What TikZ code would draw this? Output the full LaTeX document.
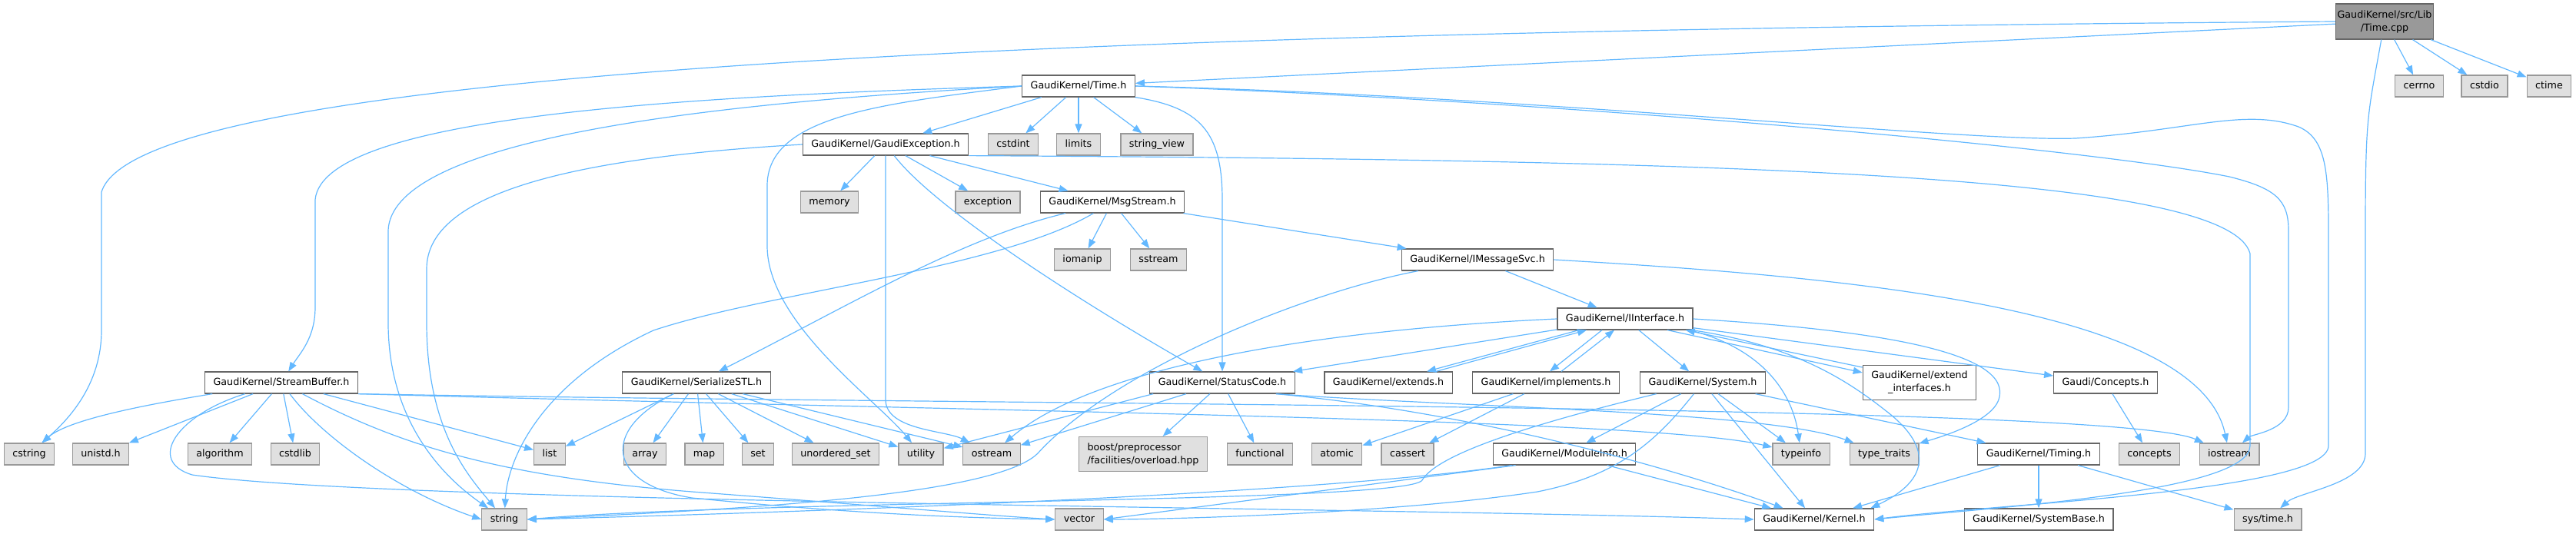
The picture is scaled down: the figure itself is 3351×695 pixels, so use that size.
\documentclass[tikz,border=0pt]{standalone}
\usepackage{fontspec}
\setmainfont{DejaVu Sans}
\usetikzlibrary{arrows.meta}
\definecolor{depblue}{HTML}{63B8FF}
\definecolor{hdrline}{HTML}{666666}
\definecolor{sysline}{HTML}{999999}
\definecolor{sysfill}{HTML}{E0E0E0}
\definecolor{rootfill}{HTML}{999999}

\begin{document}
\begin{tikzpicture}[x=1pt,y=-1pt,font=\fontsize{12.7}{17}\selectfont,
    box/.style={draw=hdrline,fill=white,line width=1.2pt,inner xsep=11pt,inner ysep=0pt,minimum height=28pt},
    hdr/.style={box,text height=9.5pt,text depth=2.6pt},
    sys/.style={hdr,draw=sysline,fill=sysfill},
    dep/.style={draw=depblue,line width=1.2pt,-{Triangle[length=12pt,width=9pt]}}]
  \useasboundingbox (0,0) rectangle (3351,695);

  % top rows
  \node[box,fill=rootfill,inner xsep=2pt,minimum height=46pt,align=center] (tcpp) at (3102,28) {GaudiKernel/src/Lib\\/Time.cpp};
  \node[hdr] (timeh) at (1403,112) {GaudiKernel/Time.h};
  \node[sys] (cerrno) at (3147,112) {cerrno};
  \node[sys] (cstdio) at (3232,112) {cstdio};
  \node[sys] (ctime) at (3316,112) {ctime};
  \node[hdr] (gexc) at (1152,188) {GaudiKernel/GaudiException.h};
  \node[sys] (cstdint) at (1318,188) {cstdint};
  \node[sys] (limits) at (1403,188) {limits};
  \node[sys] (strview) at (1505,188) {string\_view};
  \node[sys] (memory) at (1079,263) {memory};
  \node[sys] (exception) at (1285,263) {exception};
  \node[hdr] (msgstream) at (1447,263) {GaudiKernel/MsgStream.h};
  \node[sys] (iomanip) at (1408,338) {iomanip};
  \node[sys] (sstream) at (1507,338) {sstream};
  \node[hdr] (imsgsvc) at (1922,338) {GaudiKernel/IMessageSvc.h};
  \node[hdr] (iinterface) at (2114,415) {GaudiKernel/IInterface.h};

  % middle row
  \node[hdr] (streambuf) at (366,498) {GaudiKernel/StreamBuffer.h};
  \node[hdr] (serialize) at (906,498) {GaudiKernel/SerializeSTL.h};
  \node[hdr] (statuscode) at (1590,498) {GaudiKernel/StatusCode.h};
  \node[hdr] (extends) at (1806,498) {GaudiKernel/extends.h};
  \node[hdr] (implements) at (2011,498) {GaudiKernel/implements.h};
  \node[hdr] (system) at (2215,498) {GaudiKernel/System.h};
  \node[box,minimum height=45pt,align=center] (extendif) at (2497,498) {GaudiKernel/extend\\\_interfaces.h};
  \node[hdr] (conceptsh) at (2739,498) {Gaudi/Concepts.h};

  % lower rows
  \node[sys] (cstring) at (38,591) {cstring};
  \node[sys] (unistd) at (131,591) {unistd.h};
  \node[sys] (algorithm) at (286,591) {algorithm};
  \node[sys] (cstdlib) at (384,591) {cstdlib};
  \node[sys] (list) at (715,591) {list};
  \node[sys] (array) at (839,591) {array};
  \node[sys] (map) at (916,591) {map};
  \node[sys] (set) at (986,591) {set};
  \node[sys] (unordset) at (1087,591) {unordered\_set};
  \node[sys] (utility) at (1198,591) {utility};
  \node[sys] (ostream) at (1290,591) {ostream};
  \node[box,draw=sysline,fill=sysfill,minimum height=45pt,align=left] (boost) at (1487,591) {boost/preprocessor\\/facilities/overload.hpp};
  \node[sys] (functional) at (1639,591) {functional};
  \node[sys] (atomic) at (1739,591) {atomic};
  \node[sys] (cassert) at (1831,591) {cassert};
  \node[hdr] (moduleinfo) at (2035,591) {GaudiKernel/ModuleInfo.h};
  \node[sys] (typeinfo) at (2343,591) {typeinfo};
  \node[sys] (typetraits) at (2451,591) {type\_traits};
  \node[hdr] (timing) at (2652,591) {GaudiKernel/Timing.h};
  \node[sys] (concepts) at (2796,591) {concepts};
  \node[sys] (iostream) at (2900,591) {iostream};
  \node[sys] (string) at (656,676) {string};
  \node[sys] (vector) at (1404,676) {vector};
  \node[hdr] (kernel) at (2360,676) {GaudiKernel/Kernel.h};
  \node[hdr] (systembase) at (2652,676) {GaudiKernel/SystemBase.h};
  \node[sys] (systime) at (2950,676) {sys/time.h};

  % Time.cpp
  \draw[dep] (tcpp) -- (timeh);
  \foreach \t in {cerrno,cstdio,ctime} \draw[dep] (tcpp) -- (\t);
  \draw[dep] (tcpp.west) .. controls (1400,40) and (180,90) .. (132,250) -- (132,430) .. controls (132,500) and (90,545) .. (cstring);
  \draw[dep] (tcpp) .. controls (3080,150) and (3077,150) .. (3077,300) -- (3077,590) .. controls (3077,630) and (2990,640) .. (systime);

  % Time.h
  \foreach \t in {cstdint,limits,strview,gexc} \draw[dep] (timeh) -- (\t);
  \draw[dep] (timeh.west) .. controls (900,125) and (420,150) .. (410,260) -- (410,400) .. controls (410,440) and (390,460) .. (streambuf);
  \draw[dep] (timeh.west) .. controls (1000,130) and (510,170) .. (505,300) -- (505,420) .. controls (505,560) and (590,630) .. (string);
  \draw[dep] (timeh.west) .. controls (1150,135) and (1000,150) .. (998,240) -- (998,320) .. controls (998,420) and (1140,520) .. (utility);
  \draw[dep] (timeh.south east) .. controls (1560,140) and (1590,170) .. (1590,260) -- (statuscode);
  \draw[dep] (timeh.east) .. controls (2000,125) and (2550,185) .. (2700,180) .. controls (2850,170) and (2920,140) .. (2990,165) .. controls (3025,180) and (3029,220) .. (3029,300) -- (3029,580) .. controls (3029,640) and (2600,655) .. (kernel.east);
  \draw[dep] (timeh.east) .. controls (2000,130) and (2700,190) .. (2900,230) .. controls (2960,245) and (2977,260) .. (2977,300) -- (2977,530) .. controls (2977,560) and (2930,565) .. (iostream);

  % GaudiException.h
  \foreach \t in {memory,exception,msgstream} \draw[dep] (gexc) -- (\t);
  \draw[dep] (gexc) .. controls (1215,270) and (1400,390) .. (statuscode);
  \draw[dep] (gexc.west) .. controls (750,205) and (555,250) .. (555,350) -- (555,420) .. controls (555,560) and (610,620) .. (string);
  \draw[dep] (gexc.south) -- (1152,520) .. controls (1152,560) and (1230,560) .. (ostream);
  \draw[dep] (gexc.south east) .. controls (2300,208) and (2900,230) .. (2927,330) -- (2927,580) .. controls (2927,640) and (2600,660) .. (kernel.east);

  % MsgStream.h
  \foreach \t in {imsgsvc,iomanip,sstream} \draw[dep] (msgstream) -- (\t);
  \draw[dep] (msgstream) .. controls (1250,310) and (1100,400) .. (serialize);
  \draw[dep] (msgstream) .. controls (1300,350) and (1000,380) .. (850,430) .. controls (700,500) and (660,600) .. (string);

  % IMessageSvc.h
  \draw[dep] (imsgsvc) -- (iinterface);
  \draw[dep] (imsgsvc.east) .. controls (2400,360) and (2860,400) .. (iostream);
  \draw[dep] (imsgsvc) .. controls (1700,380) and (1450,480) .. (1350,590) .. controls (1290,650) and (900,665) .. (string.east);

  % IInterface.h
  \foreach \t in {statuscode,system,conceptsh} \draw[dep] (iinterface) -- (\t);
  \draw[dep] (iinterface.west) .. controls (1700,430) and (1420,480) .. (ostream);
  \draw[dep] ([xshift=-30pt]iinterface.south) -- ([xshift=5pt]implements.north);
  \draw[dep] ([xshift=20pt]implements.north) -- ([xshift=-14pt]iinterface.south);
  \draw[dep] ([xshift=-60pt]iinterface.south) -- ([xshift=50pt]extends.north);
  \draw[dep] ([xshift=62pt]extends.north) -- ([xshift=-50pt]iinterface.south);
  \draw[dep] ([xshift=55pt]iinterface.south) -- (extendif.170);
  \draw[dep] (extendif.165) -- ([xshift=-10pt]iinterface.south east);
  \draw[dep] ([xshift=-5pt]iinterface.south east) .. controls (2280,450) and (2330,500) .. (typeinfo);
  \draw[dep] (iinterface.east) .. controls (2450,430) and (2620,460) .. (2600,520) .. controls (2590,550) and (2520,570) .. (typetraits);
  \draw[dep] ([xshift=-2pt]iinterface.south east) .. controls (2340,450) and (2410,500) .. (2460,540) .. controls (2520,590) and (2500,630) .. ([xshift=-5pt]kernel.north east);

  % implements.h, Concepts.h
  \foreach \t in {atomic,cassert} \draw[dep] (implements) -- (\t);
  \draw[dep] (conceptsh) -- (concepts);

  % StreamBuffer.h
  \foreach \t in {unistd,algorithm,cstdlib,list} \draw[dep] (streambuf) -- (\t);
  \draw[dep] (streambuf) .. controls (200,525) and (90,545) .. (cstring);
  \draw[dep] (streambuf) .. controls (420,570) and (520,640) .. (string.west);
  \draw[dep] (streambuf) .. controls (520,580) and (650,620) .. (900,640) .. controls (1100,655) and (1300,672) .. (vector.west);
  \draw[dep] (streambuf) .. controls (230,540) and (190,600) .. (250,618) .. controls (500,655) and (1800,660) .. (kernel.west);
  \draw[dep] (streambuf.south east) .. controls (1300,528) and (2750,525) .. (iostream);
  \draw[dep] (streambuf.south east) .. controls (1300,536) and (2150,545) .. (typeinfo);

  % SerializeSTL.h
  \foreach \t in {list,array,map,set,unordset,utility,ostream} \draw[dep] (serialize) -- (\t);
  \draw[dep] (serialize) .. controls (780,560) and (790,630) .. (900,648) .. controls (1100,668) and (1250,674) .. (vector.west);

  % StatusCode.h
  \foreach \t in {ostream,boost,functional} \draw[dep] (statuscode) -- (\t);
  \draw[dep] ([xshift=5pt]statuscode.south west) -- (utility);
  \draw[dep] ([xshift=-25pt]statuscode.south east) .. controls (1900,530) and (2300,535) .. (typetraits);
  \draw[dep] ([xshift=-25pt]statuscode.south east) .. controls (1900,535) and (2150,600) .. (kernel);

  % System.h
  \foreach \t in {moduleinfo,typeinfo,timing,kernel} \draw[dep] (system) -- (\t);
  \draw[dep] (system) .. controls (2000,550) and (1870,590) .. (1850,625) .. controls (1830,655) and (1000,650) .. (string.east);
  \draw[dep] (system) .. controls (2150,580) and (2100,620) .. (2000,640) .. controls (1800,670) and (1500,676) .. (vector.east);

  % ModuleInfo.h, Timing.h
  \draw[dep] (moduleinfo) -- (kernel);
  \draw[dep] ([xshift=30pt]moduleinfo.south west) -- (vector.east);
  \draw[dep] ([xshift=25pt]moduleinfo.south west) .. controls (1700,645) and (1000,668) .. (string.east);
  \foreach \t in {kernel,systembase,systime} \draw[dep] (timing) -- (\t);
\end{tikzpicture}
\end{document}
